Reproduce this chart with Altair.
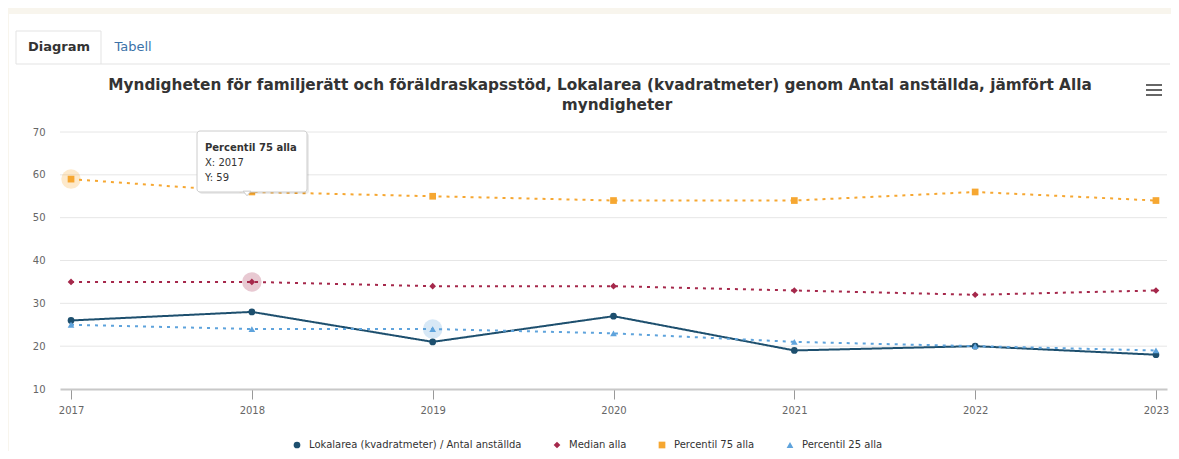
import altair as alt
import pandas as pd

# ---------------- data ----------------
years = [2017, 2018, 2019, 2020, 2021, 2022, 2023]
series_names = [
    "Lokalarea (kvadratmeter) / Antal anställda",
    "Median alla",
    "Percentil 75 alla",
    "Percentil 25 alla",
]
lokalarea = [26, 28, 21, 27, 19, 20, 18]
median_alla = [35, 35, 34, 34, 33, 32, 33]
percentil_75 = [59, 56, 55, 54, 54, 56, 54]
percentil_25 = [25, 24, 24, 23, 21, 20, 19]
y_ticks = [10, 20, 30, 40, 50, 60, 70]

title_lines = [
    "Myndigheten för familjerätt och föräldraskapsstöd, Lokalarea (kvadratmeter) genom Antal anställda, jämfört Alla",
    "myndigheter",
]
tabs = ["Diagram", "Tabell"]
tooltip_title = "Percentil 75 alla"
tooltip_lines = ["X: 2017", "Y: 59"]

colors = ["#1d4f6e", "#a5284b", "#f6a731", "#5ea3dc"]
shapes = ["circle", "diamond", "square", "triangle-up"]
dashes = [[1, 0], [3, 5], [3, 5], [3, 5]]

# ---------------- layout ----------------
PW, PH = 1107, 257
PAD = {"left": 52, "top": 124, "right": 4, "bottom": 62}
FONT = "DejaVu Sans"

all_values = [lokalarea, median_alla, percentil_75, percentil_25]
rows = []
for name, vals in zip(series_names, all_values):
    for yr, v in zip(years, vals):
        rows.append({"year": yr, "value": v, "series": name})
df = pd.DataFrame(rows)

# hovered / highlighted points (halos) in the screenshot
halo_keys = [("Percentil 75 alla", 2017), ("Median alla", 2018), ("Percentil 25 alla", 2019)]
halo_df = pd.concat([df[(df.series == s) & (df.year == y)] for s, y in halo_keys])

xscale = alt.Scale(domain=[2016.939, 2023.061], nice=False, zero=False)
yscale = alt.Scale(domain=[10, 70], nice=False, zero=False)
cscale = alt.Scale(domain=series_names, range=colors)

one = pd.DataFrame({"a": [0]})

# white card
card = alt.Chart(one).mark_rect(fill="white").encode(
    x=alt.value(-51), x2=alt.value(PW + PAD["right"]),
    y=alt.value(-118), y2=alt.value(PH + PAD["bottom"]),
)
# tab bar
tab_line = alt.Chart(one).mark_rule(color="#e3e3e3", strokeWidth=1).encode(
    x=alt.value(41), x2=alt.value(PW + 3), y=alt.value(-68)
)
tab_box = alt.Chart(one).mark_rect(fill="white", stroke="#e3e3e3", strokeWidth=1).encode(
    x=alt.value(-44), x2=alt.value(41), y=alt.value(-101), y2=alt.value(-68)
)
tab1 = alt.Chart(pd.DataFrame({"t": [tabs[0]]})).mark_text(
    font=FONT, fontSize=13, fontWeight="bold", color="#333333", baseline="middle", align="center"
).encode(text="t:N", x=alt.value(-1), y=alt.value(-85))
tab2 = alt.Chart(pd.DataFrame({"t": [tabs[1]]})).mark_text(
    font=FONT, fontSize=13, color="#3c72a8", baseline="middle", align="center"
).encode(text="t:N", x=alt.value(73), y=alt.value(-85))

title_df = pd.DataFrame({"t": title_lines, "px": [540, 557], "py": [-47, -27]})
title_text = alt.Chart(title_df).mark_text(
    font=FONT, fontSize=15.3, fontWeight="bold", color="#333333", baseline="middle", align="center"
).encode(text="t:N", x=alt.X("px:Q", scale=None), y=alt.Y("py:Q", scale=None))

burger_df = pd.DataFrame({"py": [-47, -42, -37]})
burger = alt.Chart(burger_df).mark_rule(color="#666666", strokeWidth=2).encode(
    x=alt.value(1086), x2=alt.value(1102), y=alt.Y("py:Q", scale=None)
)

# horizontal grid lines
grid = alt.Chart(pd.DataFrame({"v": y_ticks[1:]})).mark_rule(color="#e6e6e6", strokeWidth=1).encode(
    y=alt.Y("v:Q", scale=yscale), x=alt.value(0), x2=alt.value(PW)
)

legend = alt.Legend(
    title=None, orient="none", legendX=232, legendY=308, direction="horizontal", columns=4,
    labelFont=FONT, labelFontSize=10, labelColor="#333333", columnPadding=30, labelLimit=500,
    symbolSize=45, symbolStrokeWidth=0, labelOffset=7, symbolOpacity=1,
)

base = alt.Chart(df).encode(
    x=alt.X("year:Q", scale=xscale, title=None,
            axis=alt.Axis(values=years, format="d", grid=False, tickSize=10, tickColor="#999999",
                          domainColor="#c8c8c8", domainWidth=2, labelFont=FONT, labelFontSize=10,
                          labelColor="#666666", labelPadding=6, labelFlush=False, zindex=1)),
    y=alt.Y("value:Q", scale=yscale, title=None,
            axis=alt.Axis(values=y_ticks, grid=False, domain=False, ticks=False,
                          labelFont=FONT, labelFontSize=10, labelColor="#666666", labelPadding=15,
                          zindex=1)),
    color=alt.Color("series:N", scale=cscale, sort=series_names, legend=legend),
)

halos = alt.Chart(halo_df).mark_point(filled=True, opacity=0.25, size=380, shape="circle").encode(
    x=alt.X("year:Q", scale=xscale), y=alt.Y("value:Q", scale=yscale),
    color=alt.Color("series:N", scale=cscale, legend=None),
)

lines = base.mark_line(strokeWidth=2).encode(
    strokeDash=alt.StrokeDash("series:N", scale=alt.Scale(domain=series_names, range=dashes), legend=None)
)
points = base.mark_point(filled=True, opacity=1, size=45).encode(
    shape=alt.Shape("series:N", scale=alt.Scale(domain=series_names, range=shapes), sort=series_names,
                    legend=legend)
)

# tooltip box
tip_shadow = alt.Chart(one).mark_rect(fill="#000000", opacity=0.08, cornerRadius=3).encode(
    x=alt.value(139), x2=alt.value(249), y=alt.value(1), y2=alt.value(62)
)
tip_box = alt.Chart(one).mark_rect(fill="white", stroke="#cccccc", strokeWidth=1, cornerRadius=3).encode(
    x=alt.value(137), x2=alt.value(247), y=alt.value(-1), y2=alt.value(60)
)
tip_arrow = alt.Chart(one).mark_point(shape="M-1,-1L0,0.2L1,-1Z", filled=True, fill="white", stroke="#cccccc",
                                      strokeWidth=1, size=60, opacity=1).encode(
    x=alt.value(187), y=alt.value(63)
)
tip_head = alt.Chart(pd.DataFrame({"t": [tooltip_title]})).mark_text(
    font=FONT, fontSize=10, fontWeight="bold", color="#333333", align="left", baseline="middle"
).encode(text="t:N", x=alt.value(145), y=alt.value(16))
tip_df = pd.DataFrame({"t": tooltip_lines, "py": [31, 46]})
tip_text = alt.Chart(tip_df).mark_text(font=FONT, fontSize=10, color="#333333", align="left",
                                       baseline="middle").encode(
    text="t:N", x=alt.value(145), y=alt.Y("py:Q", scale=None)
)

chart = alt.layer(
    card, tab_line, tab_box, tab1, tab2, title_text, burger, grid,
    lines, halos, points,
    tip_shadow, tip_box, tip_arrow, tip_head, tip_text,
).properties(
    width=PW, height=PH, padding=PAD, autosize=alt.AutoSizeParams(type="none"),
    background="#f8f5ed",
).configure_view(stroke=None)

chart.save("out.html", embed_options={"renderer": "svg", "actions": False})
